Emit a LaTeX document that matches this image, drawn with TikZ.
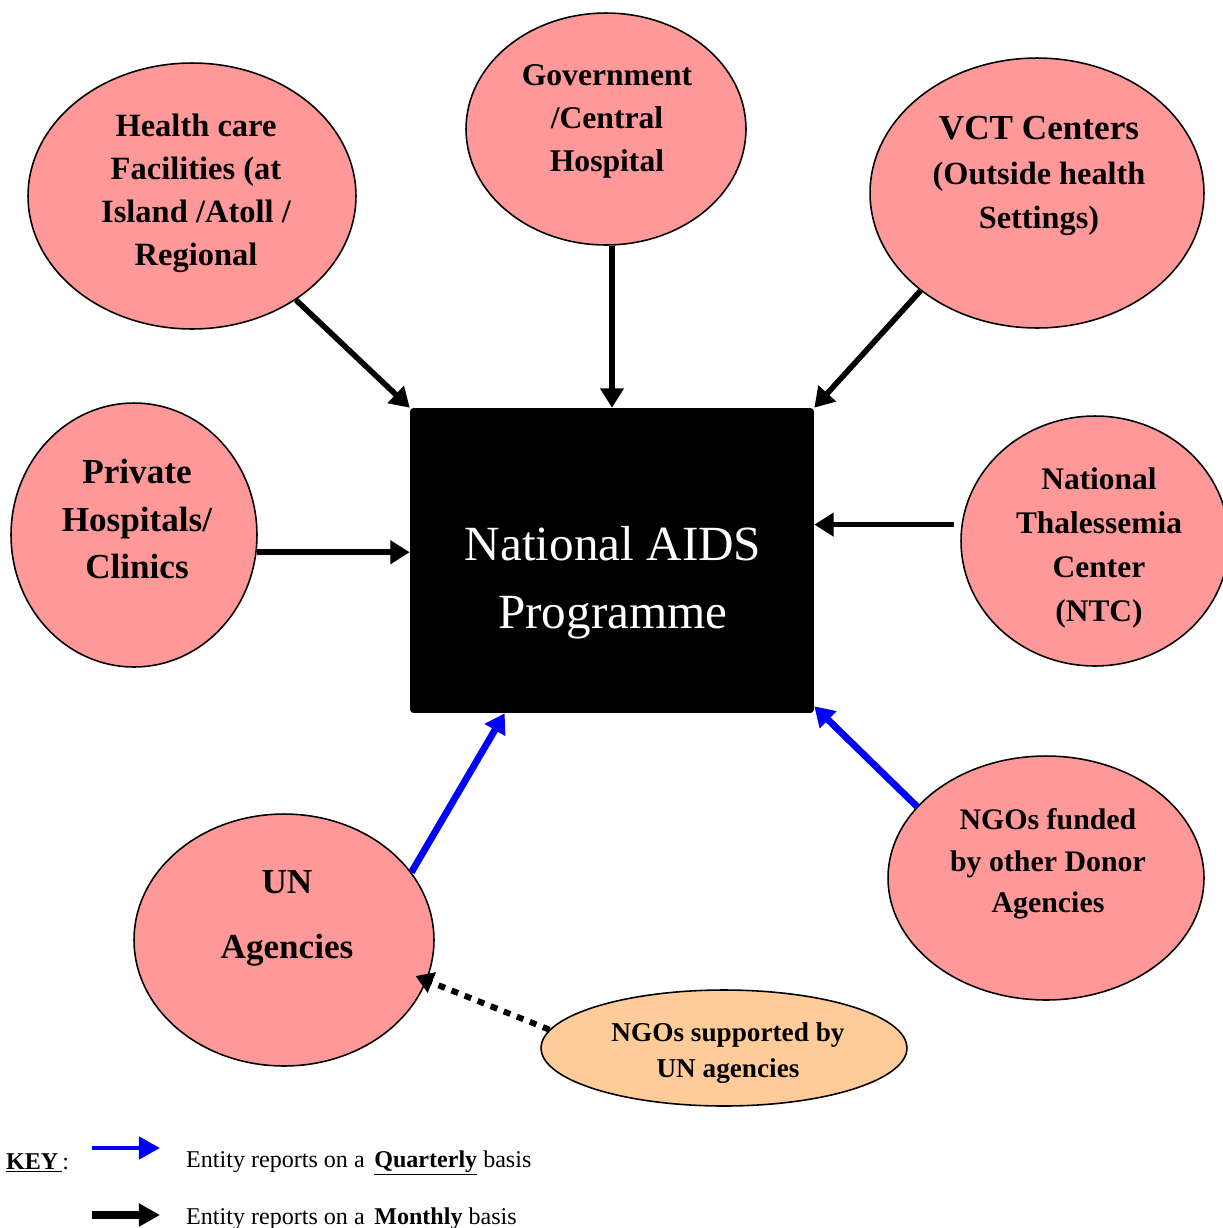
\documentclass[tikz,border=0pt]{standalone}
\usepackage{fontspec}
\setmainfont{Liberation Serif}
\usetikzlibrary{shapes.geometric,arrows.meta,positioning}
\definecolor{entitypink}{HTML}{FF9999}
\definecolor{entitypeach}{HTML}{FFCC99}

\begin{document}
\begin{tikzpicture}[x=0.02cm,y=-0.02cm,
                    entity/.style={ellipse, draw=black, line width=0.9pt, fill=entitypink, inner sep=0pt},
                    etext/.style={align=center, font=\bfseries\fontsize{18.5}{24.5}\selectfont},
                    monthly/.style={line width=3.2pt, -{Triangle[length=11pt,width=13pt]}},
                    quarterly/.style={blue, line width=3.9pt, -{Triangle[length=11pt,width=13pt]}},
                    viaun/.style={line width=3.4pt, dash pattern=on 4pt off 4pt, -{Triangle[length=10pt,width=12pt]}},
                    keytext/.style={anchor=west, font=\fontsize{13.7}{16}\selectfont},
                   ]

\useasboundingbox (0,0) rectangle (1223,1228);

% central box
\node[fill=black, rounded corners=2pt, minimum width=8.08cm, minimum height=6.1cm, inner sep=0pt] (nap) at (612,560.5) {};
\node[text=white, align=center, font=\fontsize{28}{38.5}\selectfont] (nap-t) at (613,583) {National AIDS\\Programme};

% reporting entities
\node[entity, minimum width=6.56cm, minimum height=5.32cm] (hcf) at (192,196) {};
\node[etext] (hcf-t) at (196,193) {Health care\\Facilities (at\\Island /Atoll /\\Regional};

\node[entity, minimum width=5.6cm, minimum height=4.64cm] (gov) at (606,129) {};
\node[etext, font=\bfseries\fontsize{18}{24.5}\selectfont] (gov-t) at (607,121) {Government\\/Central\\Hospital};

\node[entity, minimum width=6.68cm, minimum height=5.4cm] (vct) at (1037,193) {};
\node[etext, font=\bfseries\fontsize{18.4}{25.5}\selectfont] (vct-t) at (1039,176) {{\fontsize{20}{24}\selectfont VCT Centers}\\(Outside health\\Settings)};

\node[entity, minimum width=4.92cm, minimum height=5.28cm] (phc) at (134,535) {};
\node[etext, font=\bfseries\fontsize{20}{27}\selectfont] (phc-t) at (137,519) {Private\\Hospitals/\\Clinics};

\node[entity, minimum width=5.36cm, minimum height=5.0cm] (ntc) at (1095,541) {};
\node[etext, font=\bfseries\fontsize{17.9}{25}\selectfont] (ntc-t) at (1099,548) {National\\Thalessemia\\Center\\(NTC)};

\node[entity, minimum width=6.32cm, minimum height=4.88cm] (ngo) at (1046,878) {};
\node[etext, font=\bfseries\fontsize{17}{23.5}\selectfont] (ngo-t) at (1048,864) {NGOs funded\\by other Donor\\Agencies};

\node[entity, minimum width=6.0cm, minimum height=5.04cm] (un) at (284,940) {};
\node[etext, font=\bfseries\fontsize{20}{37}\selectfont] (un-t) at (287,918) {UN\\Agencies};

\node[entity, fill=entitypeach, minimum width=7.32cm, minimum height=2.32cm] (ngun) at (724,1048) {};
\node[etext, font=\bfseries\fontsize{15.5}{20.5}\selectfont] (ngun-t) at (728,1053) {NGOs supported by\\UN agencies};

% reporting lines
\draw[monthly] (hcf.-45) -- (nap.north west);
\draw[monthly] (gov.south -| nap.north) -- (nap.north);
\draw[monthly] (vct.220) -- (nap.north east);
\draw[monthly] (phc.-8) -- (phc.-8 -| nap.west);
\draw[monthly] ([xshift=-0.14cm]ntc.173) -- (ntc.173 -| nap.east);
\draw[quarterly] (un.28) -- ([xshift=1.9cm]nap.south west);
\draw[quarterly] (ngo.151) -- ([yshift=0.14cm]nap.south east);
\draw[viaun] (ngun.174) -- ([xshift=-0.26cm]un.-14);

% key
\node[keytext] (key) at (0,1163) {\underline{\textbf{KEY}\,}:};
\coordinate (qa) at (92,1148);
\coordinate (qb) at (160,1148);
\draw[blue, line width=2.8pt, -{Triangle[length=12pt,width=12.5pt]}] (qa) -- (qb);
\node[keytext] (key-q) at (180,1163) {Entity reports on a \hspace{0.15em}\underline{\textbf{Quarterly}} basis};
\coordinate (ma) at (92,1215);
\coordinate (mb) at (160,1215);
\draw[line width=5pt, -{Triangle[length=12pt,width=12.5pt]}] (ma) -- (mb);
\node[keytext] (key-m) at (180,1219) {Entity reports on a \hspace{0.15em}\textbf{Monthly} basis};

\end{tikzpicture}
\end{document}
